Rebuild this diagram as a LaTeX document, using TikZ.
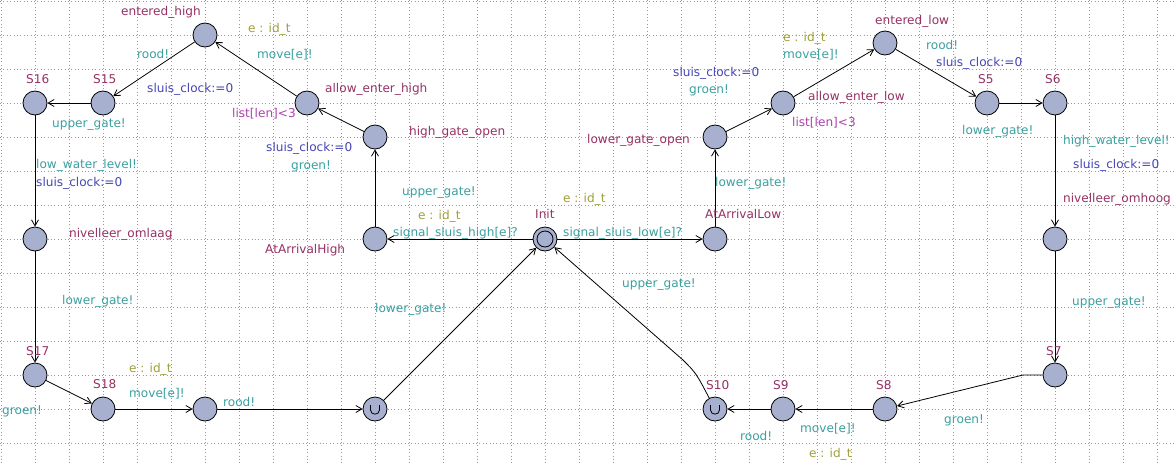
\documentclass[tikz,border=0pt]{standalone}
\usepackage{fontspec}
\setmainfont{DejaVu Sans}
\usetikzlibrary{arrows.meta}
\definecolor{nodefill}{RGB}{167,176,207}
\definecolor{namecol}{RGB}{150,50,100}
\definecolor{synccol}{RGB}{60,160,160}
\definecolor{assigncol}{RGB}{70,70,180}
\definecolor{selcol}{RGB}{160,160,60}
\definecolor{guardcol}{RGB}{176,64,176}
\newcommand\mylab[5]{\node[lbl,#4] (#1) at (#2,#3+4.5) {#5};}
\begin{document}
\begin{tikzpicture}[x=1pt,y=-1pt,
  gridline/.style={draw=gray!80, line width=0.7pt, dash pattern=on 0.8pt off 2.6pt},
  state/.style={circle, draw=black, fill=nodefill, minimum size=24pt, inner sep=0pt, line width=0.8pt},
  edge/.style={draw=black, line width=0.8pt, -{Straight Barb[length=6pt,width=7pt,line width=0.8pt]}},
  lbl/.style={anchor=base west, inner sep=0pt, font=\fontsize{12.1}{14}\selectfont},
  nm/.style={text=namecol},
  sy/.style={text=synccol},
  as/.style={text=assigncol},
  se/.style={text=selcol},
  gu/.style={text=guardcol}]
\useasboundingbox (0,0) rectangle (1176,463);
\fill[white] (0,0) rectangle (1176,463);
\foreach \i in {0,...,34} \draw[gridline] (1+34*\i,0) -- (1+34*\i,463);
\foreach \j in {0,...,13} \draw[gridline] (0,1+34*\j) -- (1176,1+34*\j);

% locations
\node[state] (enteredhigh) at (205,35) {};
\node[state] (S16) at (35,103) {};
\node[state] (S15) at (103,103) {};
\node[state] (allowhigh) at (307,103) {};
\node[state] (highopen) at (375,137) {};
\node[state] (omlaag) at (35,239) {};
\node[state] (arrhigh) at (375,239) {};
\node[state] (Init) at (545,239) {};
\node[state] (arrlow) at (715,239) {};
\node[state] (lowopen) at (715,137) {};
\node[state] (allowlow) at (783,103) {};
\node[state] (enteredlow) at (885,43) {};
\node[state] (S5) at (987,103) {};
\node[state] (S6) at (1055,103) {};
\node[state] (omhoog) at (1055,239) {};
\node[state] (S7) at (1055,375) {};
\node[state] (S8) at (885,409) {};
\node[state] (S9) at (783,409) {};
\node[state] (S10) at (715,409) {};
\node[state] (S17) at (35,375) {};
\node[state] (S18) at (103,409) {};
\node[state] (U1) at (205,409) {};
\node[state] (C1) at (375,409) {};
\draw[line width=0.8pt] (Init.center) circle (8pt);
\draw[line width=0.8pt] (370.5,405) -- (370.5,410) .. controls (370.5,415.5) and (379.5,415.5) .. (379.5,410) -- (379.5,405);
\draw[line width=0.8pt] (710.5,405) -- (710.5,410) .. controls (710.5,415.5) and (719.5,415.5) .. (719.5,410) -- (719.5,405);

% edges
\coordinate (bendA) at (683,360);
\coordinate (bendB) at (1023,375);
\draw[edge] (Init) -- (arrhigh);
\draw[edge] (Init) -- (arrlow);
\draw[edge] (arrhigh) -- (highopen);
\draw[edge] (highopen) -- (allowhigh);
\draw[edge] (allowhigh) -- (enteredhigh);
\draw[edge] (enteredhigh) -- (S15);
\draw[edge] (S15) -- (S16);
\draw[edge] (S16) -- (omlaag);
\draw[edge] (omlaag) -- (S17);
\draw[edge] (S17) -- (S18);
\draw[edge] (S18) -- (U1);
\draw[edge] (U1) -- (C1);
\draw[edge] (C1) -- (Init);
\draw[edge] (S10) .. controls (696,373) .. (bendA) -- (Init);
\draw[edge] (arrlow) -- (lowopen);
\draw[edge] (lowopen) -- (allowlow);
\draw[edge] (allowlow) -- (enteredlow);
\draw[edge] (enteredlow) -- (S5);
\draw[edge] (S5) -- (S6);
\draw[edge] (S6) -- (omhoog);
\draw[edge] (omhoog) -- (S7);
\draw[edge] (S7) -- (bendB) -- (S8);
\draw[edge] (S8) -- (S9);
\draw[edge] (S9) -- (S10);

% location names
\mylab{n1}{121}{11}{nm}{entered\_high}
\mylab{n2}{26}{79}{nm}{S16}
\mylab{n3}{93}{79}{nm}{S15}
\mylab{n4}{325}{88}{nm}{allow\_enter\_high}
\mylab{n5}{409}{131}{nm}{high\_gate\_open}
\mylab{n6}{69}{233}{nm}{nivelleer\_omlaag}
\mylab{n7}{265}{249}{nm}{AtArrivalHigh}
\mylab{n8}{535}{214}{nm}{Init}
\mylab{n9}{705}{214}{nm}{AtArrivalLow}
\mylab{n10}{587}{139}{nm}{lower\_gate\_open}
\mylab{n11}{808}{96}{nm}{allow\_enter\_low}
\mylab{n12}{875}{20}{nm}{entered\_low}
\mylab{n13}{978}{79}{nm}{S5}
\mylab{n14}{1045}{79}{nm}{S6}
\mylab{n15}{1063}{198}{nm}{nivelleer\_omhoog}
\mylab{n16}{1046}{351}{nm}{S7}
\mylab{n17}{876}{385}{nm}{S8}
\mylab{n18}{773}{385}{nm}{S9}
\mylab{n19}{706}{385}{nm}{S10}
\mylab{n20}{26}{351}{nm}{S17}
\mylab{n21}{93}{384}{nm}{S18}

% selects
\mylab{e1}{248}{28}{se}{e : id\_t}
\mylab{e2}{418}{215}{se}{e : id\_t}
\mylab{e3}{563}{198}{se}{e : id\_t}
\mylab{e4}{783}{37}{se}{e : id\_t}
\mylab{e5}{129}{368}{se}{e : id\_t}
\mylab{e6}{809}{453}{se}{e : id\_t}

% syncs
\mylab{s1}{137}{54}{sy}{rood!}
\mylab{s2}{257}{54}{sy}{move[e]!}
\mylab{s3}{52}{123}{sy}{upper\_gate!}
\mylab{s4}{291}{165}{sy}{groen!}
\mylab{s5}{36}{164}{sy}{low\_water\_level!}
\mylab{s6}{402}{191}{sy}{upper\_gate!}
\mylab{s7}{393}{232}{sy}{signal\_sluis\_high[e]?}
\mylab{s8}{563}{232}{sy}{signal\_sluis\_low[e]?}
\mylab{s9}{715}{182}{sy}{lower\_gate!}
\mylab{s10}{622}{283}{sy}{upper\_gate!}
\mylab{s11}{375}{308}{sy}{lower\_gate!}
\mylab{s12}{62}{300}{sy}{lower\_gate!}
\mylab{s13}{2}{410}{sy}{groen!}
\mylab{s14}{129}{393}{sy}{move[e]!}
\mylab{s15}{223}{402}{sy}{rood!}
\mylab{s16}{689}{89}{sy}{groen!}
\mylab{s17}{783}{54}{sy}{move[e]!}
\mylab{s18}{926}{45}{sy}{rood!}
\mylab{s19}{962}{130}{sy}{lower\_gate!}
\mylab{s20}{1063}{140}{sy}{high\_water\_level!}
\mylab{s21}{1072}{301}{sy}{upper\_gate!}
\mylab{s22}{944}{419}{sy}{groen!}
\mylab{s23}{800}{428}{sy}{move[e]!}
\mylab{s24}{740}{436}{sy}{rood!}

% assignments
\mylab{a1}{147}{88}{as}{sluis\_clock:=0}
\mylab{a2}{266}{147}{as}{sluis\_clock:=0}
\mylab{a3}{36}{182}{as}{sluis\_clock:=0}
\mylab{a4}{673}{72}{as}{sluis\_clock:=0}
\mylab{a5}{936}{62}{as}{sluis\_clock:=0}
\mylab{a6}{1073}{164}{as}{sluis\_clock:=0}

% guards
\mylab{g1}{232}{113}{gu}{list[len]<3}
\mylab{g2}{792}{122}{gu}{list[len]<3}
\end{tikzpicture}
\end{document}
